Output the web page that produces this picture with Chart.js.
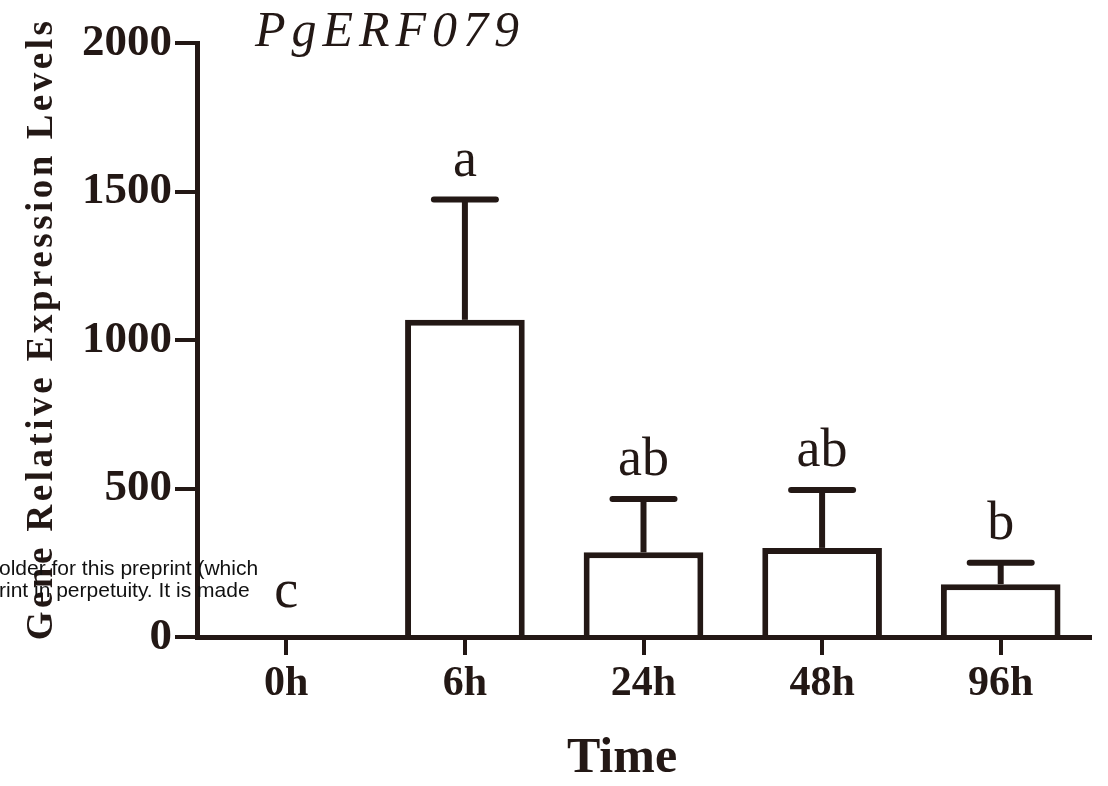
<!DOCTYPE html>
<html>
<head>
<meta charset="utf-8">
<script src="https://cdn.jsdelivr.net/npm/chart.js@4/dist/chart.umd.min.js"></script>
<style>
  body { margin: 0; background: #fff; }
  canvas { display: block; }
</style>
</head>
<body>
<canvas id="myChart" width="1108" height="786"></canvas>
<script>
// data
var times = ['0h', '6h', '24h', '48h', '96h'];
var means = [0, 1068, 285, 300, 178];
var errs = [0, 405, 180, 195, 72];
var letters = ['c', 'a', 'ab', 'ab', 'b'];
var yTicks = [0, 500, 1000, 1500, 2000];

var ink = '#231815';
var serif = '"Liberation Serif", "Times New Roman", serif';

// error bars, significance letters and free text
var extras = {
  id: 'extras',
  afterDatasetsDraw: function(chart) {
    var ctx = chart.ctx;
    var y = chart.scales.y;
    var meta = chart.getDatasetMeta(0);
    ctx.save();
    ctx.strokeStyle = ink;
    ctx.fillStyle = ink;
    meta.data.forEach(function(bar, i) {
      var top = y.getPixelForValue(means[i] + errs[i]);
      if (errs[i] > 0) {
        ctx.lineWidth = 6;
        ctx.lineCap = 'butt';
        ctx.beginPath();
        ctx.moveTo(bar.x, bar.y);
        ctx.lineTo(bar.x, top);
        ctx.stroke();
        ctx.lineCap = 'round';
        ctx.beginPath();
        ctx.moveTo(bar.x - 31, top);
        ctx.lineTo(bar.x + 31, top);
        ctx.stroke();
      }
      ctx.font = '54px ' + serif;
      ctx.textAlign = 'center';
      ctx.textBaseline = 'alphabetic';
      ctx.fillText(letters[i], bar.x, top - (errs[i] > 0 ? 24 : 30));
    });
    ctx.restore();
  },
  afterDraw: function(chart) {
    var ctx = chart.ctx;
    ctx.save();
    ctx.fillStyle = ink;
    ctx.textAlign = 'center';
    ctx.textBaseline = 'alphabetic';

    // title
    ctx.font = 'italic 50px ' + serif;
    ctx.letterSpacing = '6px';
    ctx.fillText('PgERF079', 390, 46);

    // axis titles
    ctx.font = 'bold 50px ' + serif;
    ctx.letterSpacing = '0px';
    ctx.fillText('Time', 622, 772);

    ctx.save();
    ctx.translate(52, 329);
    ctx.rotate(-Math.PI / 2);
    ctx.font = 'bold 37px ' + serif;
    ctx.letterSpacing = '3.5px';
    ctx.fillText('Gene Relative Expression Levels', 0, 0);
    ctx.restore();

    // preprint notice bleeding over the figure
    ctx.letterSpacing = '0px';
    ctx.textAlign = 'left';
    ctx.fillStyle = '#111';
    ctx.font = '21px "Liberation Sans", Arial, sans-serif';
    ctx.fillText('older for this preprint (which', -1, 575);
    ctx.fillText('rint in perpetuity. It is made', -1, 597);
    ctx.restore();
  }
};

var ctx = document.getElementById('myChart').getContext('2d');
var chart = new Chart(ctx, {
  type: 'bar',
  data: {
    labels: times,
    datasets: [{
      data: means,
      backgroundColor: '#ffffff',
      borderColor: ink,
      borderWidth: 6,
      borderSkipped: 'bottom',
      barPercentage: 0.67,
      categoryPercentage: 1
    }]
  },
  options: {
    responsive: false,
    animation: false,
    layout: { padding: { top: 43, right: 18, left: 0, bottom: 0 } },
    plugins: {
      legend: { display: false },
      tooltip: { enabled: false }
    },
    scales: {
      x: {
        afterFit: function(scale) { scale.height = 149; },
        grid: {
          offset: false,
          drawOnChartArea: false,
          tickLength: 18,
          lineWidth: 4,
          color: ink
        },
        border: { width: 5, color: ink },
        ticks: {
          color: ink,
          padding: 4,
          font: { family: serif, size: 42, weight: 'bold' }
        }
      },
      y: {
        min: 0,
        max: 2000,
        afterFit: function(scale) { scale.width = 197; },
        afterBuildTicks: function(scale) {
          scale.ticks = yTicks.map(function(v) { return { value: v }; });
        },
        grid: {
          drawOnChartArea: false,
          tickLength: 22,
          lineWidth: 4,
          color: ink
        },
        border: { width: 5, color: ink },
        ticks: {
          color: ink,
          padding: 3,
          font: { family: serif, size: 45, weight: 'bold' },
          callback: function(v) { return String(v); }
        }
      }
    }
  },
  plugins: [extras]
});
</script>
</body>
</html>
